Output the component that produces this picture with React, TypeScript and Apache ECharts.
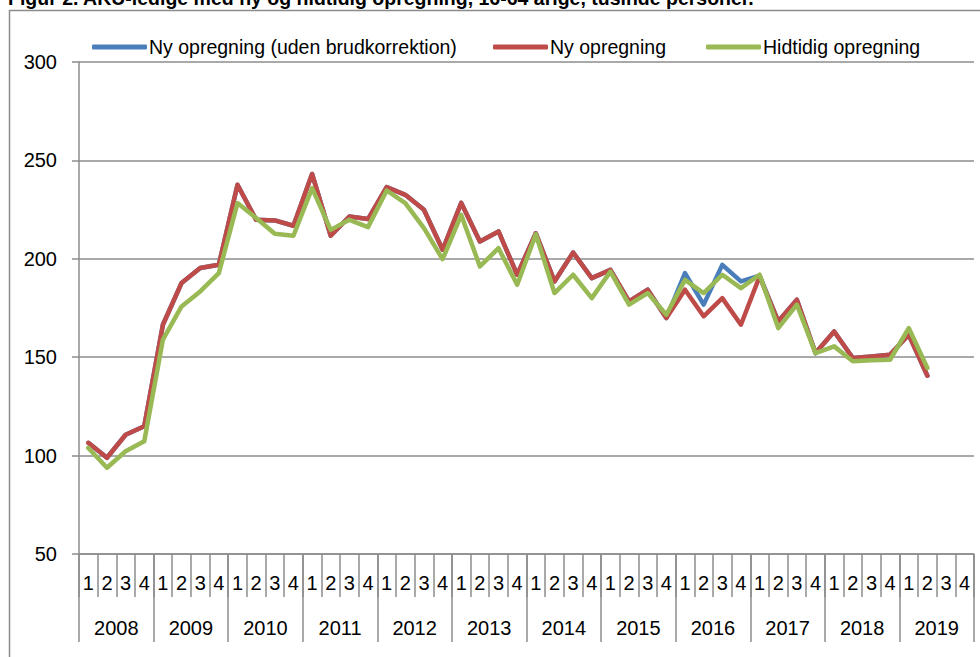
import React, { useEffect, useRef } from "react";
import * as echarts from "echarts";

const years = ["2008", "2009", "2010", "2011", "2012", "2013", "2014", "2015", "2016", "2017", "2018", "2019"];
const quarters = ["1", "2", "3", "4"];
const categories = years.flatMap((y) => quarters.map((q) => `${y}K${q}`));

const nyUdenBrud = [
  106.5, 98.9, 110.6, 114.9,
  166.5, 187.7, 195.3, 197.0,
  237.6, 219.8, 219.5, 216.8,
  243.1, 211.7, 221.5, 220.2,
  236.4, 232.5, 224.9, 204.6,
  228.4, 208.8, 213.9, 191.9,
  213.0, 188.5, 203.2, 190.2,
  194.4, 178.3, 184.3, 169.9,
  192.7, 176.7, 196.9, 188.5,
  191.5, 168.2, 179.2, 152.1,
  163.1, 149.6, 150.4, 151.3,
  161.4, 140.6, null, null,
];

const nyOpregning = [
  106.5, 98.9, 110.6, 114.9,
  166.5, 187.7, 195.3, 197.0,
  237.6, 219.8, 219.5, 216.8,
  243.1, 211.7, 221.5, 220.2,
  236.4, 232.5, 224.9, 204.6,
  228.4, 208.8, 213.9, 191.9,
  213.0, 188.5, 203.2, 190.2,
  194.4, 178.3, 184.3, 169.9,
  184.3, 170.8, 180.0, 166.5,
  191.0, 168.2, 179.2, 152.1,
  163.1, 149.6, 150.4, 151.3,
  161.4, 140.6, null, null,
];

const hidtidig = [
  103.9, 93.8, 102.2, 107.3,
  158.9, 175.8, 183.4, 192.7,
  228.3, 220.7, 212.7, 211.7,
  235.9, 214.7, 219.8, 216.1,
  234.7, 228.3, 215.6, 199.8,
  222.3, 196.1, 205.4, 186.8,
  212.5, 182.6, 191.9, 180.0,
  193.5, 176.7, 182.6, 171.6,
  189.3, 182.6, 191.9, 185.1,
  191.9, 164.8, 176.7, 152.1,
  155.5, 147.9, 148.4, 148.7,
  164.8, 144.5, null, null,
];

const seriesNames = ["Ny opregning (uden brudkorrektion)", "Ny opregning", "Hidtidig opregning"];
const seriesColors = ["#4A7EBB", "#BE4B48", "#98B954"];
const titleText = "Figur 2. AKU-ledige med ny og hidtidig opregning, 16-64 årige, tusinde personer.";

const FONT = "'Liberation Sans', Arial, sans-serif";
const GRID_COLOR = "#8C8C8C";

export default function App() {
  const ref = useRef<HTMLDivElement>(null);
  useEffect(() => {
    document.body.style.margin = "0";
    if (!ref.current) return;
    const chart = echarts.init(ref.current, undefined, { renderer: "svg" });
    const dataSets = [nyUdenBrud, nyOpregning, hidtidig];
    const legendLefts = [92, 493, 706];
    chart.setOption({
      animation: false,
      backgroundColor: "#ffffff",
      textStyle: { fontFamily: FONT },
      graphic: [
        {
          type: "rect",
          shape: { x: 9.5, y: 10.5, width: 1000, height: 700 },
          style: { fill: "none", stroke: "#8C8C8C", lineWidth: 1.5 },
          silent: true,
        },
        {
          type: "text",
          x: 8,
          y: -2,
          style: {
            text: titleText,
            font: `bold 19.5px ${FONT}`,
            fill: "#000",
            textVerticalAlign: "middle",
          },
          silent: true,
        },
      ],
      legend: seriesNames.map((n, i) => ({
        data: [{ name: n, icon: "roundRect" }],
        left: legendLefts[i],
        top: 37,
        padding: 0,
        itemWidth: 55,
        itemHeight: 5,
        textStyle: { fontSize: 19.5, color: "#000", fontFamily: FONT, padding: [0, 0, 0, -3] },
        selectedMode: false,
      })),
      grid: { left: 79, right: 6, top: 62, bottom: 103, containLabel: false },
      xAxis: [
        {
          type: "category",
          data: categories,
          boundaryGap: true,
          axisLine: { show: true, lineStyle: { color: GRID_COLOR, width: 1.5 } },
          axisTick: { show: true, interval: 0, length: 43, lineStyle: { color: GRID_COLOR, width: 1.5 } },
          axisLabel: {
            interval: 0,
            margin: 19,
            fontSize: 20,
            color: "#000",
            fontFamily: FONT,
            formatter: (v: string) => v.slice(-1),
          },
          splitLine: { show: false },
        },
        {
          type: "category",
          data: years,
          position: "bottom",
          offset: 0,
          boundaryGap: true,
          axisLine: { show: false },
          axisTick: { show: true, interval: 0, length: 88, lineStyle: { color: GRID_COLOR, width: 1.5 } },
          axisLabel: { interval: 0, margin: 64, fontSize: 20, color: "#000", fontFamily: FONT },
          splitLine: { show: false },
        },
      ],
      yAxis: {
        type: "value",
        min: 50,
        max: 300,
        interval: 50,
        axisLine: { show: true, lineStyle: { color: GRID_COLOR, width: 1.5 } },
        axisTick: { show: true, length: 7, lineStyle: { color: GRID_COLOR, width: 1.5 } },
        axisLabel: { margin: 22, fontSize: 20, color: "#000", fontFamily: FONT },
        splitLine: { show: true, lineStyle: { color: GRID_COLOR, width: 1.5 } },
      },
      series: seriesNames.map((n, i) => ({
        name: n,
        type: "line",
        xAxisIndex: 0,
        data: dataSets[i],
        showSymbol: false,
        symbol: "none",
        color: seriesColors[i],
        lineStyle: { width: 4.5, color: seriesColors[i], cap: "round", join: "round" },
        z: 2 + i,
      })),
    });
    return () => chart.dispose();
  }, []);
  return <div ref={ref} style={{ width: 980, height: 657 }} />;
}
